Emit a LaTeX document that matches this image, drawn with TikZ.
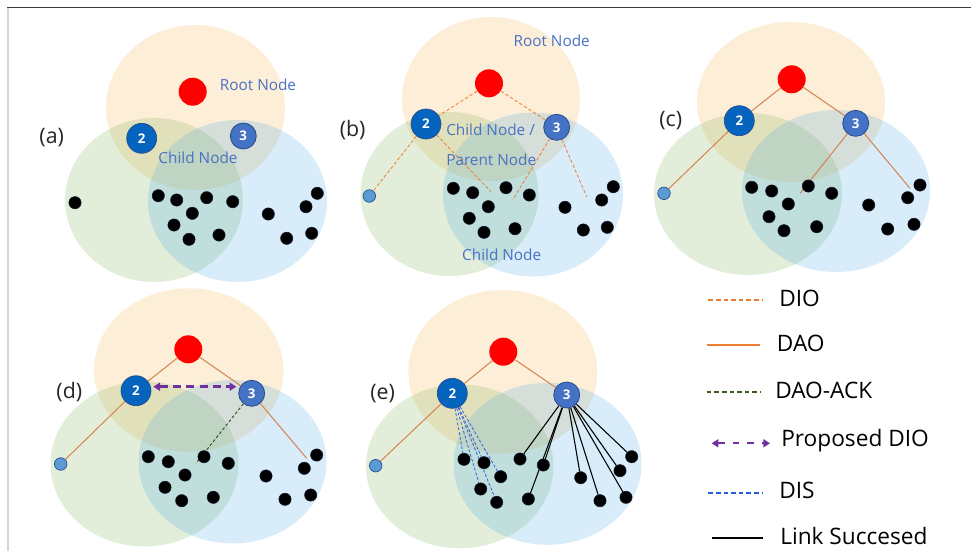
\documentclass[tikz,border=0pt]{standalone}
\usepackage{fontspec}
\setmainfont{Open Sans}
\usetikzlibrary{arrows.meta}

\definecolor{zoneorange}{RGB}{250,190,100}
\definecolor{zonegreen}{RGB}{112,173,71}
\definecolor{zoneblue}{RGB}{60,160,225}
\definecolor{rootred}{RGB}{255,0,0}
\definecolor{hubtwo}{RGB}{5,100,190}
\definecolor{hubthree}{RGB}{68,114,196}
\definecolor{hubedge}{RGB}{40,75,140}
\definecolor{leafblue}{RGB}{91,155,213}
\definecolor{dotedge}{RGB}{20,25,50}
\definecolor{diocol}{RGB}{237,125,49}
\definecolor{daocol}{RGB}{214,130,80}
\definecolor{ackcol}{RGB}{56,87,35}
\definecolor{propcol}{RGB}{112,48,160}
\definecolor{discol}{RGB}{40,90,230}
\definecolor{labelblue}{RGB}{74,114,196}
\definecolor{tagcol}{RGB}{38,38,38}
\definecolor{framedark}{RGB}{60,60,60}
\definecolor{framelight}{RGB}{215,215,215}

\pgfdeclarelayer{zones}
\pgfdeclarelayer{edges}
\pgfsetlayers{zones,edges,main}

\tikzset{
  zoneO/.style={fill=zoneorange, fill opacity=0.25},
  zoneG/.style={fill=zonegreen, fill opacity=0.2},
  zoneB/.style={fill=zoneblue, fill opacity=0.2},
  rootnode/.style={circle, fill=rootred, inner sep=0pt, minimum size=21pt},
  hubtwostyle/.style={circle, fill=hubtwo, draw=hubedge, line width=0.5pt, inner sep=0pt,
    minimum size=22.5pt, text=white, font=\bfseries\fontsize{10}{12}\selectfont},
  hubthreestyle/.style={circle, fill=hubthree, draw=hubedge, line width=0.6pt, inner sep=0pt,
    minimum size=19.5pt, text=white, font=\bfseries\fontsize{10}{12}\selectfont},
  leaf/.style={circle, fill=leafblue, draw=hubedge, line width=0.5pt, inner sep=0pt, minimum size=9.4pt},
  dot/.style={circle, fill=black, draw=dotedge, line width=0.4pt, inner sep=0pt, minimum size=9.2pt},
  dio/.style={draw=diocol, line width=0.6pt, dash pattern=on 2.5pt off 1.6pt},
  dao/.style={draw=daocol, line width=0.75pt},
  ack/.style={draw=ackcol, line width=0.75pt, dash pattern=on 2.2pt off 1.6pt},
  prop/.style={draw=propcol, line width=1.9pt, dash pattern=on 6pt off 4pt,
    {Triangle[length=5pt,width=6pt]}-{Triangle[length=5pt,width=6pt]}},
  dis/.style={draw=discol, line width=0.55pt, dash pattern=on 2.2pt off 1.4pt},
  link/.style={draw=black, line width=0.8pt},
  lbl/.style={text=labelblue, font=\fontsize{11.5}{13}\selectfont, inner sep=0pt},
  tag/.style={text=tagcol, font=\fontsize{16}{19}\selectfont, inner sep=0pt},
  legtext/.style={text=black, font=\fontsize{17}{20}\selectfont, anchor=west, inner sep=0pt},
}

\begin{document}
\begin{tikzpicture}[x=0.75pt, y=-0.75pt]
\useasboundingbox (0,0) rectangle (971,551);

% ---------- background and coverage zones ----------
\begin{pgfonlayer}{zones}
  \fill[white] (0,0) rectangle (971,551);
  % (a)
  \fill[zoneO] (195.5,107.5) ellipse [x radius=89.5, y radius=82.5];
  \fill[zoneG] (154,200) ellipse [x radius=89, y radius=82];
  \fill[zoneB] (237.5,201) ellipse [x radius=89.5, y radius=81];
  % (b)
  \fill[zoneO] (491,99) ellipse [x radius=89, y radius=82];
  \fill[zoneG] (449.5,194) ellipse [x radius=89, y radius=82];
  \fill[zoneB] (533,194.5) ellipse [x radius=90, y radius=82];
  % (c)
  \fill[zoneO] (791,102) ellipse [x radius=94, y radius=80];
  \fill[zoneG] (748,194) ellipse [x radius=94, y radius=81];
  \fill[zoneB] (836,191) ellipse [x radius=94, y radius=81];
  % (d)
  \fill[zoneO] (188.7,370) ellipse [x radius=94.7, y radius=81.7];
  \fill[zoneG] (144.5,464) ellipse [x radius=94, y radius=82.5];
  \fill[zoneB] (232.5,461.7) ellipse [x radius=94, y radius=81.7];
  % (e)
  \fill[zoneO] (502.8,371.7) ellipse [x radius=94.5, y radius=81.7];
  \fill[zoneG] (459.7,466.3) ellipse [x radius=93.7, y radius=82];
  \fill[zoneB] (547.5,463.8) ellipse [x radius=94, y radius=81];
  % outer frame
  \draw[framelight, line width=0.8pt] (8,8) -- (8,551);
  \draw[framedark, line width=1.2pt] (7,7.5) -- (971,7.5);
\end{pgfonlayer}

% ---------- panel (a) ----------
\node[rootnode] (ra) at (192.7,91.7) {};
\node[hubtwostyle] (a2) at (141.7,138.3) {2};
\node[hubthreestyle] (a3) at (243.3,136) {3};
\node[lbl] (aroot) at (258,85) {Root Node};
\node[lbl] (achild) at (198,158) {Child Node};
\node[tag] (atag) at (51.7,138) {(a)};
\foreach \n/\x/\y in {1/75/202.7, 2/158.3/195.7, 3/176.7/200, 4/206.7/197.7, 5/232.7/201.7,
  6/192.3/213.3, 7/174/225, 8/189/239.3, 9/219/235, 10/268.3/214, 11/306/206.7,
  12/317.3/193.3, 13/286.7/238.3, 14/311.7/233.3}
  \node[dot] (ad\n) at (\x,\y) {};

% ---------- panel (b) ----------
\node[rootnode] (rb) at (489,83.3) {};
\node[hubtwostyle] (b2) at (426,124) {2};
\node[hubthreestyle] (b3) at (556.7,127.3) {3};
\node[leaf] (bl) at (369.3,196) {};
\foreach \n/\x/\y in {1/453.3/188.3, 2/472.7/192.7, 3/506/187.7, 4/529.3/195, 5/488.3/206.7,
  6/469.3/218.3, 7/484/232.3, 8/515/228.7, 9/565/207.3, 10/601.7/200, 11/613.3/186.7,
  12/583.3/230, 13/607.3/227.3}
  \node[dot] (bd\n) at (\x,\y) {};
\coordinate (bq1) at (491,191.7);
\coordinate (bq2) at (512.7,200);
\coordinate (bq3) at (586.7,196.7);
\begin{pgfonlayer}{edges}
  \draw[dio] (rb) -- (b2);
  \draw[dio] (rb) -- (b3);
  \draw[dio] (b2) -- (bl);
  \draw[dio] (b2) -- (bq1);
  \draw[dio] (b3) -- (bq2);
  \draw[dio] (b3) -- (bq3);
\end{pgfonlayer}
\node[lbl] (broot) at (551.7,41) {Root Node};
\node[lbl, anchor=west] (bchild) at (446,130) {Child Node /};
\node[lbl, anchor=west] (bparent) at (446,160) {Parent Node};
\node[lbl] (bchild2) at (501.7,254.3) {Child Node};
\node[tag] (btag) at (352.7,130) {(b)};

% ---------- panel (c) ----------
\node[rootnode] (rc) at (791.7,79.3) {};
\node[hubtwostyle] (c2) at (739.3,120.7) {2};
\node[hubthreestyle] (c3) at (855.7,123.3) {3};
\node[leaf] (cl) at (664,193.3) {};
\foreach \n/\x/\y in {1/751.7/187.3, 2/771.7/191, 3/808.3/186, 4/831.7/193.3, 5/788.3/204,
  6/769/216.7, 7/784/230.7, 8/816.7/226.7, 9/868.7/205, 10/907.7/197.7, 11/920/185,
  12/887.7/229, 13/914/224.3}
  \node[dot] (cd\n) at (\x,\y) {};
\coordinate (cq1) at (800,193.3);
\coordinate (cq2) at (910,188.3);
\begin{pgfonlayer}{edges}
  \draw[dao] (rc) -- (c2);
  \draw[dao] (rc) -- (c3);
  \draw[dao] (c2) -- (cl);
  \draw[dao] (c3) -- (cq1);
  \draw[dao] (c3) -- (cq2);
\end{pgfonlayer}
\node[tag] (ctag) at (670.7,120.7) {(c)};

% ---------- panel (d) ----------
\node[rootnode] (rd) at (188.3,349.3) {};
\node[hubtwostyle] (d2) at (136,390.7) {2};
\node[hubthreestyle] (d3) at (251.7,393.3) {3};
\node[leaf] (dl) at (60.7,464) {};
\foreach \n/\x/\y in {1/148.3/456.7, 2/168.3/461.7, 3/204/456.7, 4/228.3/463.3, 5/185/475,
  6/165/487.3, 7/181.7/500.7, 8/213.3/497.3, 9/266/476, 10/304.3/468.3, 11/316.7/455,
  12/285/499.3, 13/310.7/495}
  \node[dot] (dd\n) at (\x,\y) {};
\coordinate (dq1) at (306.7,458.3);
\coordinate (dq2) at (196,463.3);
\path (d2.east) ++(2,-4) coordinate (dpa);
\path (d3.west) ++(-2,-6.6) coordinate (dpb);
\begin{pgfonlayer}{edges}
  \draw[dao] (rd) -- (d2);
  \draw[dao] (rd) -- (d3);
  \draw[dao] (d2) -- (dl);
  \draw[dao] (d3) -- (dq1);
  \draw[ack] (d3) -- (dq2);
\end{pgfonlayer}
\draw[prop] (dpa) -- (dpb);
\node[tag] (dtag) at (69.3,391.7) {(d)};

% ---------- panel (e) ----------
\node[rootnode] (re) at (503.3,351.7) {};
\node[hubtwostyle] (e2) at (452.3,393.3) {2};
\node[hubthreestyle] (e3) at (566.7,395) {3};
\node[leaf] (el) at (375.7,465.7) {};
\foreach \n/\x/\y in {1/464/459.3, 2/484/462.7, 3/500.7/476.7, 4/480.7/489, 5/496.7/502.3,
  6/520/459, 7/543.3/465, 8/528.3/499, 9/580.7/477.7, 10/620/470.7, 11/631.7/456.7,
  12/600/500.7, 13/626/497.3}
  \node[dot] (ed\n) at (\x,\y) {};
\begin{pgfonlayer}{edges}
  \draw[dao] (re) -- (e2);
  \draw[dao] (re) -- (e3);
  \draw[dao] (e2) -- (el);
  \foreach \n in {1,...,5} \draw[dis] (e2) -- (ed\n);
  \foreach \n in {6,...,13} \draw[link] (e3) -- (ed\n);
\end{pgfonlayer}
\node[tag] (etag) at (382.7,393.3) {(e)};

% ---------- legend ----------
\coordinate (l1a) at (708.3,300);   \coordinate (l1b) at (761.7,300);
\coordinate (l2a) at (706.7,345);   \coordinate (l2b) at (760,345);
\coordinate (l3a) at (706.7,391.7); \coordinate (l3b) at (760,391.7);
\coordinate (l4a) at (711.7,443.3); \coordinate (l4b) at (770,443.3);
\coordinate (l5a) at (708.3,492.7); \coordinate (l5b) at (761.7,492.7);
\coordinate (l6a) at (711.7,538.3); \coordinate (l6b) at (763.3,538.3);
\draw[draw=diocol, line width=1.2pt, dash pattern=on 3.5pt off 2.2pt] (l1a) -- (l1b);
\draw[draw=diocol, line width=1.5pt] (l2a) -- (l2b);
\draw[draw=ackcol, line width=1.2pt, dash pattern=on 3.5pt off 2.2pt] (l3a) -- (l3b);
\draw[draw=propcol, line width=1.6pt, dash pattern=on 5pt off 6pt,
  {Triangle[length=5pt,width=6pt]}-{Triangle[length=5pt,width=6pt]}] (l4a) -- (l4b);
\draw[draw=discol, line width=1.2pt, dash pattern=on 3.5pt off 2.2pt] (l5a) -- (l5b);
\draw[draw=black, line width=1.3pt] (l6a) -- (l6b);
\node[legtext] (t1) at (779,298) {DIO};
\node[legtext] (t2) at (776.7,343) {DAO};
\node[legtext] (t3) at (775,390) {DAO-ACK};
\node[legtext] (t4) at (781,441) {Proposed DIO};
\node[legtext] (t5) at (779,490) {DIS};
\node[legtext] (t6) at (780,536) {Link Succesed};
\end{tikzpicture}
\end{document}
